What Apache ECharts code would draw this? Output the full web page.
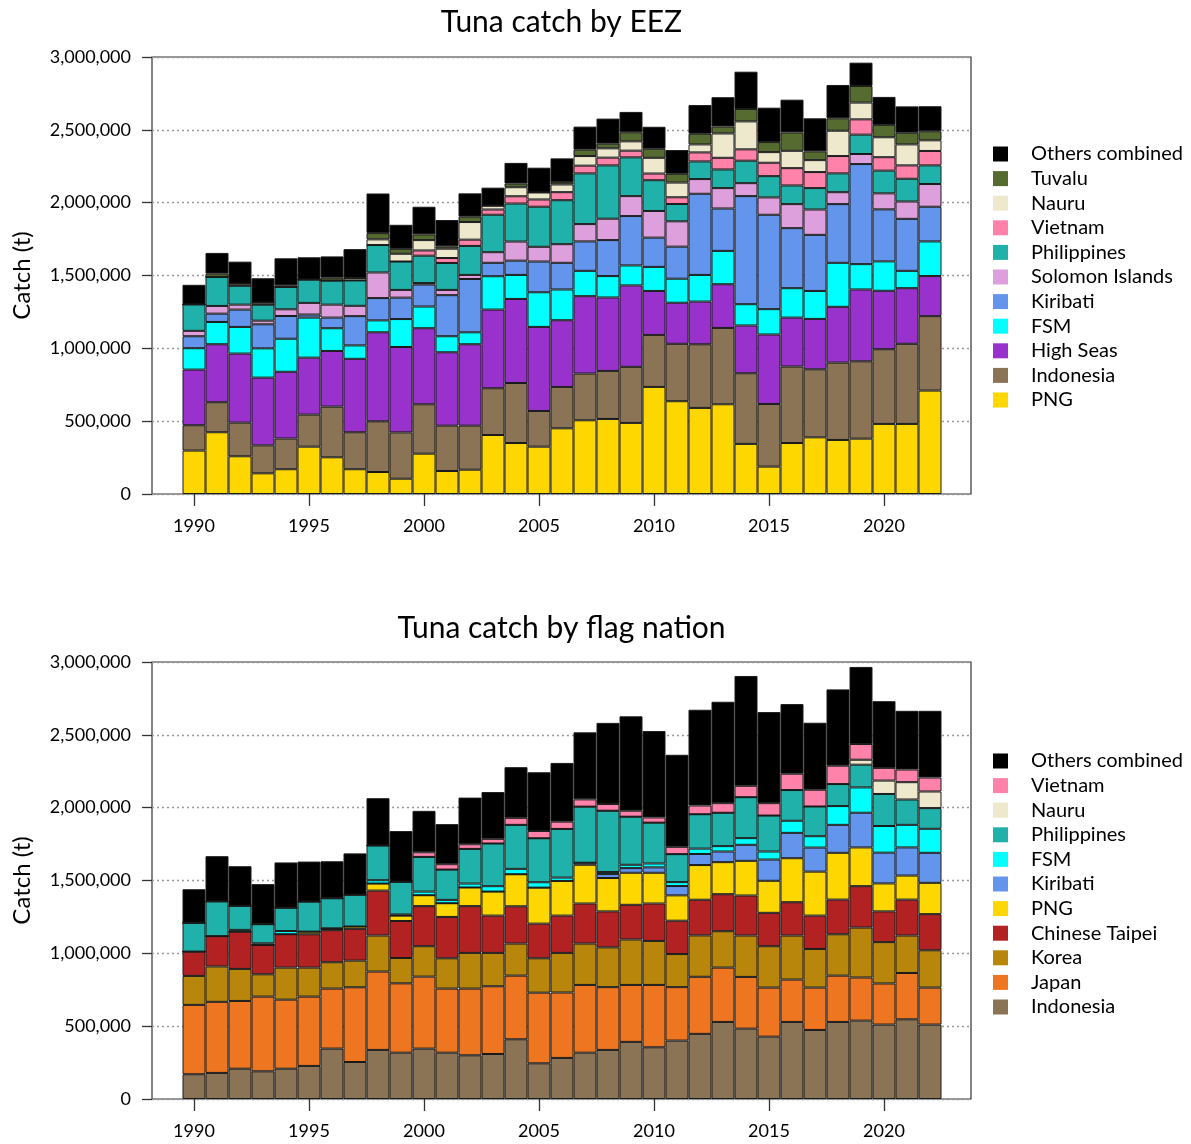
<!DOCTYPE html>
<html>
<head>
<meta charset="utf-8">
<script src="https://cdn.jsdelivr.net/npm/echarts@6/dist/echarts.min.js"></script>
<style>
html,body{margin:0;padding:0;background:#fff;}
#c{width:1191px;height:1144px;}
</style>
</head>
<body>
<div id="c"></div>
<script>
// ---------- DATA ----------
const years = ['1990','1991','1992','1993','1994','1995','1996','1997','1998','1999','2000',
  '2001','2002','2003','2004','2005','2006','2007','2008','2009','2010','2011',
  '2012','2013','2014','2015','2016','2017','2018','2019','2020','2021','2022'];
const yTicks = [0, 500000, 1000000, 1500000, 2000000, 2500000, 3000000];

// Top chart: catch by EEZ (tonnes)
const eezPNG = [298000,424000,259000,142000,170000,325000,252000,170000,151000,105000,277000,
  158000,167000,405000,350000,325000,451000,506000,515000,488000,735000,637000,
  591000,616000,344000,188000,350000,389000,371000,380000,481000,481000,710000];
const eezIndonesia = [174000,206000,231000,192000,211000,220000,348000,254000,348000,318000,339000,
  311000,302000,321000,412000,245000,284000,321000,330000,385000,357000,394000,
  437000,524000,485000,430000,525000,467000,531000,531000,513000,550000,511000];
const eezHighSeas = [382000,398000,474000,465000,458000,391000,382000,504000,611000,586000,522000,
  504000,559000,540000,577000,577000,458000,531000,504000,559000,302000,282000,
  293000,300000,328000,477000,336000,346000,383000,493000,401000,382000,275000];
const eezFSM = [147000,153000,183000,201000,227000,275000,156000,92000,82000,192000,149000,
  110000,82000,229000,165000,238000,211000,174000,147000,137000,165000,165000,
  183000,229000,146000,174000,202000,192000,302000,174000,202000,119000,238000];
const eezKiribati = [82000,57000,119000,165000,156000,21000,73000,201000,153000,147000,151000,
  282000,366000,92000,98000,211000,183000,202000,247000,339000,201000,220000,
  557000,291000,742000,648000,412000,385000,403000,687000,357000,357000,238000];
const eezSolomon = [37000,53000,34000,25000,46000,80000,89000,71000,176000,53000,10000,
  36000,28000,73000,131000,101000,128000,119000,147000,137000,183000,174000,
  101000,140000,89000,119000,165000,174000,82000,69000,110000,119000,156000];
const eezPhilippines = [181000,199000,130000,110000,154000,160000,165000,174000,188000,195000,188000,
  185000,199000,257000,261000,275000,302000,348000,366000,266000,211000,119000,
  121000,128000,154000,146000,128000,147000,129000,133000,156000,156000,128000];
const eezVietnam = [0,0,0,0,0,0,0,0,0,0,36000,
  34000,43000,36000,50000,50000,55000,53000,53000,46000,46000,46000,
  62000,80000,78000,92000,119000,110000,119000,105000,92000,92000,99000];
const eezNauru = [0,0,14000,14000,0,0,0,16000,39000,53000,71000,
  64000,121000,26000,62000,48000,53000,66000,64000,64000,108000,101000,
  55000,167000,192000,73000,119000,82000,174000,115000,137000,144000,73000];
const eezTuvalu = [0,23000,0,0,10000,0,20000,0,43000,34000,39000,
  16000,37000,0,25000,0,16000,44000,32000,62000,62000,60000,
  73000,48000,85000,69000,126000,60000,85000,114000,85000,80000,62000];
const eezOthers = [135000,142000,151000,167000,186000,153000,146000,199000,272000,165000,190000,
  181000,160000,124000,142000,170000,163000,158000,172000,140000,151000,163000,
  197000,201000,256000,236000,225000,227000,229000,160000,192000,181000,172000];

// Bottom chart: catch by flag nation (tonnes)
const flagIndonesia = [170000,179000,208000,190000,208000,227000,346000,254000,337000,318000,346000,
  318000,300000,309000,410000,245000,282000,318000,337000,392000,355000,401000,
  447000,529000,483000,428000,529000,474000,529000,538000,511000,547000,511000];
const flagJapan = [476000,488000,465000,513000,474000,476000,412000,513000,538000,476000,494000,
  440000,458000,465000,437000,485000,449000,465000,431000,391000,428000,367000,
  392000,373000,355000,337000,291000,291000,318000,296000,282000,318000,254000];
const flagKorea = [199000,243000,220000,153000,220000,199000,181000,183000,247000,174000,209000,
  208000,245000,229000,220000,236000,272000,284000,273000,312000,302000,227000,
  284000,250000,284000,284000,302000,265000,284000,343000,284000,257000,256000];
const flagTaipei = [167000,208000,256000,201000,229000,229000,220000,218000,309000,254000,275000,
  284000,321000,256000,256000,238000,256000,275000,247000,238000,257000,229000,
  245000,254000,275000,229000,229000,229000,238000,284000,211000,247000,248000];
const flagPNG = [0,0,0,0,0,18000,8000,16000,48000,37000,75000,
  94000,128000,165000,220000,247000,238000,266000,229000,220000,211000,174000,
  238000,220000,238000,220000,302000,302000,321000,266000,192000,165000,215000];
const flagKiribati = [0,0,0,0,0,0,0,0,0,0,0,
  0,0,0,0,0,0,14000,27000,32000,37000,64000,
  76000,73000,110000,146000,174000,165000,192000,238000,211000,193000,206000];
const flagFSM = [0,0,12000,12000,22000,0,5000,0,23000,8000,25000,
  23000,27000,37000,37000,37000,23000,0,14000,23000,27000,27000,
  37000,37000,46000,55000,83000,78000,129000,174000,183000,155000,165000];
const flagPhilippines = [197000,238000,165000,131000,160000,206000,206000,218000,238000,224000,238000,
  208000,238000,293000,302000,302000,334000,385000,421000,330000,280000,192000,
  236000,229000,281000,247000,211000,204000,151000,156000,220000,174000,142000];
const flagNauru = [0,0,0,0,0,0,0,0,0,0,0,
  0,0,0,0,0,0,0,0,0,0,0,
  0,0,0,0,0,0,0,34000,92000,119000,114000];
const flagVietnam = [0,0,0,0,0,0,0,0,0,0,32000,
  37000,32000,32000,48000,50000,50000,50000,46000,41000,36000,50000,
  60000,66000,78000,85000,112000,115000,126000,108000,87000,87000,96000];
const flagOthers = [231000,311000,272000,275000,311000,275000,254000,284000,325000,348000,284000,
  275000,320000,321000,348000,403000,403000,460000,557000,648000,593000,632000,
  657000,696000,754000,625000,478000,460000,524000,529000,458000,403000,458000];

// ---------- STYLE ----------
const FONT = 'Lato';
const COL = {
  'PNG':'#FFD700','Indonesia':'#8B7355','High Seas':'#9932CC','FSM':'#00FFFF',
  'Kiribati':'#6495ED','Solomon Islands':'#DDA0DD','Philippines':'#20B2AA',
  'Vietnam':'#FF82AB','Nauru':'#EEE8CD','Tuvalu':'#556B2F','Others combined':'#000000',
  'Japan':'#EE7621','Korea':'#B8860B','Chinese Taipei':'#B22222'
};

const eezStack = [
  ['PNG', eezPNG], ['Indonesia', eezIndonesia], ['High Seas', eezHighSeas], ['FSM', eezFSM],
  ['Kiribati', eezKiribati], ['Solomon Islands', eezSolomon], ['Philippines', eezPhilippines],
  ['Vietnam', eezVietnam], ['Nauru', eezNauru], ['Tuvalu', eezTuvalu], ['Others combined', eezOthers]
];
const flagStack = [
  ['Indonesia', flagIndonesia], ['Japan', flagJapan], ['Korea', flagKorea], ['Chinese Taipei', flagTaipei],
  ['PNG', flagPNG], ['Kiribati', flagKiribati], ['FSM', flagFSM], ['Philippines', flagPhilippines],
  ['Nauru', flagNauru], ['Vietnam', flagVietnam], ['Others combined', flagOthers]
];

function fmt(v){ return String(v).replace(/\B(?=(\d{3})+(?!\d))/g, ','); }

const boxL = 152, boxW = 819, barL = 182.5, barW = 759;
const tops = [57, 662], H = 437;

const grids = [], xAxes = [], yAxes = [];
tops.forEach(function(t){
  grids.push({left: boxL, top: t, width: boxW, height: H, show: true, borderColor: '#333', borderWidth: 1.2, backgroundColor: 'transparent'});
  grids.push({left: barL, top: t, width: barW, height: H, show: false});
});
[0,2].forEach(function(g){
  xAxes.push({gridIndex: g, type: 'value', min: 0, max: 1, show: false});
  xAxes.push({gridIndex: g+1, type: 'category', data: years, boundaryGap: true,
    axisLine: {show: false},
    axisTick: {show: true, alignWithLabel: true, length: 12, interval: function(i){ return i % 5 === 0; },
      lineStyle: {color: '#333', width: 1.3}},
    axisLabel: {interval: function(i){ return i % 5 === 0; }, margin: 23, fontFamily: FONT, fontSize: 18, color: '#000'},
    splitLine: {show: false}});
  yAxes.push({gridIndex: g, type: 'value', min: yTicks[0], max: yTicks[yTicks.length-1], interval: yTicks[1]-yTicks[0],
    axisLine: {show: false},
    axisTick: {show: true, length: 10, lineStyle: {color: '#333', width: 1.3}},
    axisLabel: {formatter: fmt, margin: 21, fontFamily: FONT, fontSize: 18, color: '#000'},
    splitLine: {show: true, lineStyle: {color: '#999', type: [2, 3], width: 1.3}},
    name: 'Catch (t)', nameLocation: 'middle', nameGap: 118,
    nameTextStyle: {fontFamily: FONT, fontSize: 24, color: '#000'}});
  yAxes.push({gridIndex: g+1, type: 'value', min: yTicks[0], max: yTicks[yTicks.length-1], show: false});
});

const series = [];
function addStack(stack, axisIdx, stackName){
  stack.forEach(function(s){
    series.push({
      name: s[0], type: 'bar', stack: stackName, xAxisIndex: axisIdx, yAxisIndex: axisIdx,
      data: s[1], barCategoryGap: '0%',
      itemStyle: {color: COL[s[0]], borderColor: '#1a1a1a', borderWidth: 1},
      emphasis: {disabled: true}
    });
  });
}
addStack(eezStack, 1, 'eez');
addStack(flagStack, 3, 'flag');

function legendFor(stack, top){
  return {
    orient: 'vertical', left: 988, top: top, itemWidth: 15, itemHeight: 15, itemGap: 4.6,
    icon: 'rect', selectedMode: false,
    data: stack.map(function(s){ return s[0]; }).reverse(),
    itemStyle: {borderWidth: 0},
    textStyle: {fontFamily: FONT, fontSize: 20, color: '#000', padding: [0,0,0,18]}
  };
}

const option = {
  animation: false,
  backgroundColor: '#fff',
  grid: grids, xAxis: xAxes, yAxis: yAxes, series: series,
  legend: [legendFor(eezStack, 139), legendFor(flagStack, 746)],
  graphic: [
    {type: 'text', x: 561.5, y: 22, style: {text: 'Tuna catch by EEZ', fill: '#000', fontFamily: FONT, fontSize: 30,
      align: 'center', verticalAlign: 'middle', textAlign: 'center', textVerticalAlign: 'middle'}},
    {type: 'text', x: 561.5, y: 628, style: {text: 'Tuna catch by flag nation', fill: '#000', fontFamily: FONT, fontSize: 30,
      align: 'center', verticalAlign: 'middle', textAlign: 'center', textVerticalAlign: 'middle'}}
  ]
};

const chart = echarts.init(document.getElementById('c'), null, {renderer: 'canvas'});
chart.setOption(option);
</script>
</body>
</html>
